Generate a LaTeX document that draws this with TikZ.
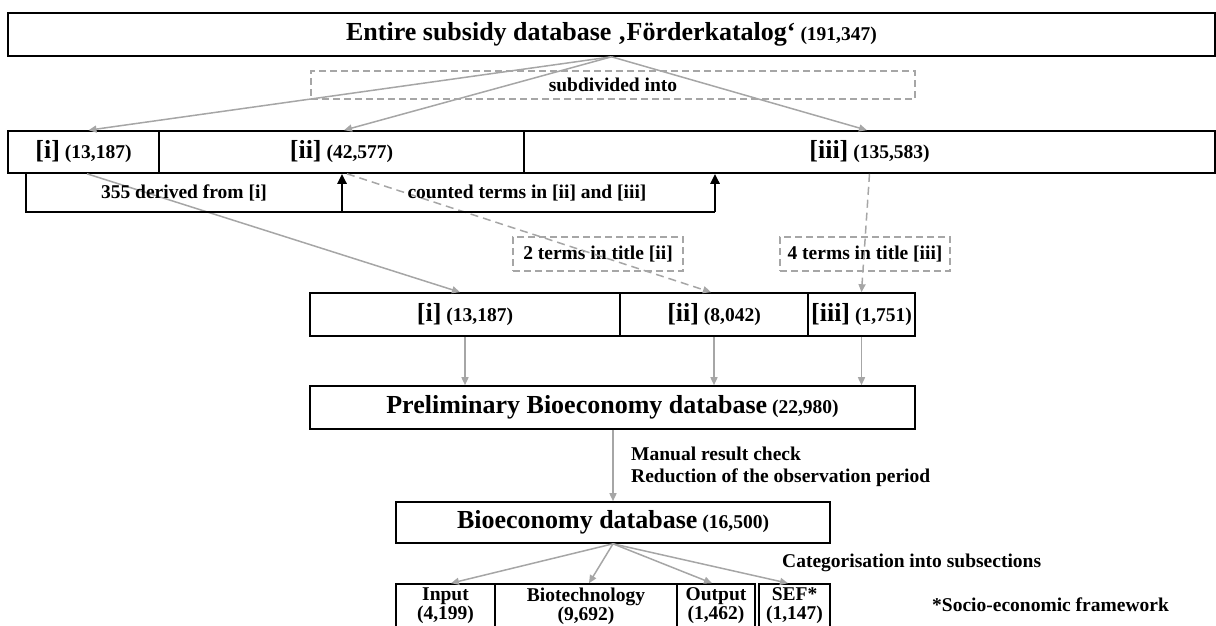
\documentclass[tikz,border=0pt]{standalone}
\usepackage{fontspec}
\setmainfont{Liberation Serif}
\usetikzlibrary{arrows.meta}
\definecolor{lgray}{HTML}{A6A6A6}
\newcommand{\bigt}[1]{{\fontsize{26}{28}\selectfont #1}}
\begin{document}
\begin{tikzpicture}[x=1pt,y=-1pt,
  every node/.style={font=\bfseries\fontsize{19.5}{19}\selectfont},
  cell/.style={draw=black,line width=1.6pt,inner sep=0pt,align=center},
  dbox/.style={draw=lgray,line width=1.4pt,dash pattern=on 7pt off 4pt,inner sep=0pt},
  garrow/.style={draw=lgray,line width=1.5pt,-{Triangle[length=8pt,width=7pt]}},
  gdash/.style={garrow,dash pattern=on 8pt off 5pt},
  brk/.style={draw=black,line width=2.7pt},
  brkarrow/.style={brk,-{Triangle[length=10pt,width=9pt]}},
  lbl/.style={inner sep=0pt}]
\useasboundingbox (0,0) rectangle (1216,625);

% top
\node[cell,minimum width=1207pt,minimum height=43pt] (top) at (611.5,34.5) {\bigt{Entire subsidy database ‚Förderkatalog‘} (191,347)};
\node[dbox,minimum width=604pt,minimum height=28pt] (sub) at (613,85) {subdivided into};

% row 2
\node[cell,minimum width=151pt,minimum height=42pt] (r2i) at (83.5,152) {\bigt{[i]} (13,187)};
\node[cell,minimum width=365pt,minimum height=42pt] (r2ii) at (341.5,152) {\bigt{[ii]} (42,577)};
\node[cell,minimum width=691pt,minimum height=42pt] (r2iii) at (869.5,152) {\bigt{[iii]} (135,583)};

\draw[garrow] (top.south) -- ([xshift=5pt]r2i.north);
\draw[garrow] (top.south) -- ([xshift=2.5pt]r2ii.north);
\draw[garrow] (top.south) -- ([xshift=-2.5pt]r2iii.north);

% middle row
\node[cell,minimum width=310pt,minimum height=43pt] (m1) at (465,314.5) {\bigt{[i]} (13,187)};
\node[cell,minimum width=188pt,minimum height=43pt] (m2) at (714,314.5) {\bigt{[ii]} (8,042)};
\node[cell,minimum width=107pt,minimum height=43pt] (m3) at (861.5,314.5) {\bigt{[iii]} (1,751)};

\node[dbox,minimum width=170pt,minimum height=34pt] (t2) at (598,254) {2 terms in title [ii]};
\node[dbox,minimum width=170pt,minimum height=34pt] (t4) at (865,254) {4 terms in title [iii]};

\draw[garrow] ([xshift=3.5pt]r2i.south) -- ([xshift=-5pt]m1.north);
\draw[gdash] ([xshift=5.5pt]r2ii.south) -- ([xshift=-3pt]m2.north);
\draw[gdash] (r2iii.south) -- (m3.north);

% bracket
\coordinate (b1) at (26,212);
\coordinate (b2) at (342,212);
\coordinate (b3) at (715,212);
\draw[brk] (r2i.south -| b1) -- (b1) -- (b3);
\draw[brkarrow] (b2) -- (b2 |- r2ii.south);
\draw[brkarrow] (b3) -- (b3 |- r2iii.south);
\node[lbl] (l355) at (184,193) {355 derived from [i]};
\node[lbl] (lcnt) at (527,193) {counted terms in [ii] and [iii]};

% preliminary
\node[cell,minimum width=605pt,minimum height=43pt] (prelim) at (612.5,407.5) {\bigt{Preliminary Bioeconomy database} (22,980)};
\draw[garrow] (m1.south) -- (m1.south |- prelim.north);
\draw[garrow] (m2.south) -- (m2.south |- prelim.north);
\draw[garrow] (m3.south) -- (m3.south |- prelim.north);

% bioeconomy
\node[cell,minimum width=434pt,minimum height=41pt] (bio) at (613,522.5) {\bigt{Bioeconomy database} (16,500)};
\draw[garrow] ([xshift=0.5pt]prelim.south) -- (bio.north);
\node[lbl,anchor=west] (man) at (631,454) {Manual result check};
\node[lbl,anchor=west] (red) at (631,478) {Reduction of the observation period};

% bottom row
\node[cell,minimum width=99pt,minimum height=44pt] (inp) at (445.5,606) {Input\\(4,199)};
\node[cell,minimum width=182pt,minimum height=44pt] (bt) at (586,606) {Biotechnology\\(9,692)};
\node[cell,minimum width=78pt,minimum height=44pt] (out) at (716,606) {Output\\(1,462)};
\node[cell,minimum width=71pt,minimum height=44pt] (sef) at (794.5,606) {SEF*\\(1,147)};

\draw[garrow] (bio.south) -- ([xshift=5.5pt]inp.north);
\draw[garrow] (bio.south) -- ([xshift=3pt]bt.north);
\draw[garrow] (bio.south) -- ([xshift=-4pt]out.north);
\draw[garrow] (bio.south) -- ([xshift=-6.5pt]sef.north);

\node[lbl,anchor=west] (cat) at (782,563) {Categorisation into subsections};
\node[lbl,anchor=west] (sefn) at (932,605) {*Socio-economic framework};
\end{tikzpicture}
\end{document}
